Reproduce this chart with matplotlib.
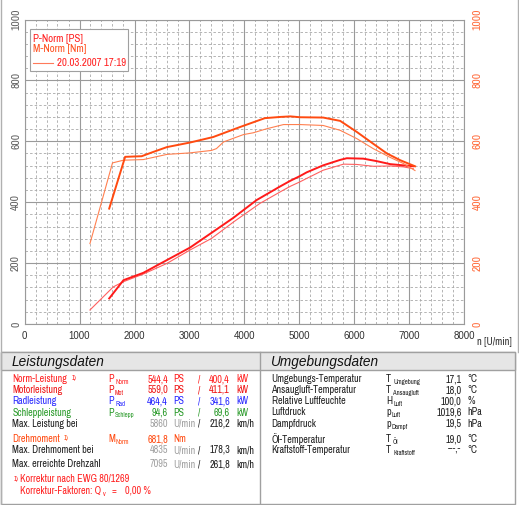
import matplotlib
matplotlib.use('Agg')
import matplotlib.pyplot as plt
from matplotlib import font_manager
from matplotlib.ticker import MultipleLocator

plt.rcParams['font.family'] = ['Liberation Sans', 'DejaVu Sans']

# narrow face for the tables, first one that is installed
names = {f.name for f in font_manager.fontManager.ttflist}
TFONT = ['Liberation Sans', 'DejaVu Sans']
FS, SUB, YFS = 6.2, 4.2, 7
for cand in ['Liberation Sans Narrow', 'Arial Narrow', 'Archivo Narrow',
             'PT Sans Narrow', 'Roboto Condensed', 'Open Sans Condensed']:
    if cand in names:
        TFONT = [cand, 'DejaVu Sans']
        FS, SUB, YFS = 7.3, 4.8, 8.3
        break

# --- curve data ---
rpm_m_thick = [1540, 1830, 2130, 2340, 2590, 3010, 3430, 3920, 4370, 4650, 4835,
               5010, 5430, 5740, 6040, 6340, 6590, 6830, 7100]
m_thick = [379, 549, 551, 565, 581, 596, 614, 647, 676, 680, 681.8,
           679, 678, 667, 631, 592, 560, 538, 518]

rpm_m_thin = [1190, 1600, 1800, 2160, 2590, 3010, 3400, 3490, 3620, 3980, 4160,
              4400, 4710, 5010, 5430, 5740, 6040, 6340, 6650, 6890, 7100]
m_thin = [264, 529, 538, 540, 557, 562, 570, 576, 598, 622, 628,
          641, 655, 655, 652, 636, 609, 576, 547, 527, 504]

rpm_p_thick = [1540, 1800, 2160, 2590, 3010, 3430, 3800, 4220, 4650, 4830, 5010,
               5130, 5430, 5740, 5860, 6160, 6400, 6650, 6890, 7070]
p_thick = [84, 144, 168, 210, 251, 303, 349, 407, 452, 470, 486,
           498, 521, 539, 544.4, 543, 535, 525, 521, 518]

rpm_p_thin = [1190, 1615, 1800, 2160, 2590, 3010, 3400, 3800, 4280, 4650, 4830,
              5010, 5130, 5430, 5800, 6040, 6340, 6650, 6890, 7070]
p_thin = [46, 122, 139, 164, 199, 243, 281, 335, 396, 434, 452,
          467, 478, 505, 525, 524, 518, 519, 516, 510]

x_ticks = [0, 1000, 2000, 3000, 4000, 5000, 6000, 7000, 8000]
y_ticks = [0, 200, 400, 600, 800, 1000]

legend_date = '20.03.2007 17:19'

# --- table data ---
leist_labels = ['Norm-Leistung', 'Motorleistung', 'Radleistung', 'Schleppleistung']
leist_sym = ['Norm', 'Mot', 'Rad', 'Schlepp']
leist_ps = ['544,4', '559,0', '464,4', '94,6']
leist_kw = ['400,4', '411,1', '341,6', '69,6']
leist_colors = ['#ff2020', '#ee1515', '#2a2aff', '#2a9a2a']

umg_labels = ['Umgebungs-Temperatur', 'Ansaugluft-Temperatur', 'Relative Luftfeuchte',
              'Luftdruck', 'Dampfdruck', 'Öl-Temperatur', 'Kraftstoff-Temperatur']
umg_sym = ['T', 'T', 'H', 'p', 'p', 'T', 'T']
umg_sub = ['Umgebung', 'Ansaugluft', 'Luft', 'Luft', 'Dampf', 'Öl', 'Kraftstoff']
umg_vals = ['17,1', '18,0', '100,0', '1019,6', '19,5', '19,0', '---,-']
umg_units = ['°C', '°C', '%', 'hPa', 'hPa', '°C', '°C']

W, H = 519, 505
fig = plt.figure(figsize=(W / 100, H / 100), dpi=100)


def px_box(x0, y0, x1, y1):
    return [x0 / W, 1 - y1 / H, (x1 - x0) / W, (y1 - y0) / H]


# === chart ===
ax = fig.add_axes(px_box(24.5, 19.5, 464.5, 324))
ax.set_xlim(0, 8000)
ax.set_ylim(0, 1000)
ax.xaxis.set_major_locator(MultipleLocator(1000))
ax.xaxis.set_minor_locator(MultipleLocator(200))
ax.yaxis.set_major_locator(MultipleLocator(200))
ax.yaxis.set_minor_locator(MultipleLocator(40))
ax.grid(which='major', color='#9a9a9a', linewidth=0.8)
ax.grid(which='minor', color='#a8a8a8', linewidth=0.6, linestyle=(0, (3, 2.5)))
ax.set_axisbelow(True)
for s in ax.spines.values():
    s.set_color('#9a9a9a')
    s.set_linewidth(0.8)
ax.tick_params(which='both', length=0)
ax.set_xticks(x_ticks)
ax.set_xticklabels([str(v) for v in x_ticks], fontsize=7, color='#303030')
ax.set_yticks(y_ticks)
ax.set_yticklabels([str(v) for v in y_ticks], fontsize=YFS, color='#606060',
                   rotation=90, va='center', family=TFONT)
ax.tick_params(axis='x', pad=5)
ax.tick_params(axis='y', pad=2.5)

ax.plot(rpm_p_thin, p_thin, color='#ff6060', linewidth=0.8)
ax.plot(rpm_p_thick, p_thick, color='#ff1a1a', linewidth=1.4)

ax2 = ax.twinx()
ax2.set_ylim(0, 1000)
ax2.set_yticks(y_ticks)
ax2.set_yticklabels([str(v) for v in y_ticks], fontsize=YFS, color='#ff6a3a',
                    rotation=90, va='center', family=TFONT)
ax2.tick_params(length=0, pad=6)
for s in ax2.spines.values():
    s.set_visible(False)
ax2.plot(rpm_m_thin, m_thin, color='#ff8050', linewidth=0.8)
ax2.plot(rpm_m_thick, m_thick, color='#ff4a10', linewidth=1.4)

# === overlay in pixel coordinates ===
ov = fig.add_axes([0, 0, 1, 1], zorder=5)
ov.set_xlim(0, W)
ov.set_ylim(H, 0)
ov.axis('off')
ov.patch.set_alpha(0)


def t(x, y, s, size=None, **kw):
    kw.setdefault('va', 'center')
    kw.setdefault('family', TFONT)
    return ov.text(x, y, s, fontsize=size or FS, **kw)


t(477, 342, 'n [U/min]', size=FS + 0.3, color='#303030')

# legend box
ov.add_patch(plt.Rectangle((30, 29), 98, 42, facecolor='white', edgecolor='#a0a0a0',
                           linewidth=0.8))
t(33, 39, 'P-Norm [PS]', size=FS + 0.5, color='#ff2020')
t(33, 49.5, 'M-Norm [Nm]', size=FS + 0.5, color='#ff5020')
ov.plot([33, 53], [62.5, 62.5], color='#ff7a5a', linewidth=0.8)
t(57, 63, legend_date, size=FS + 0.5, color='#ff2020')

# frame lines
ov.plot([1, 1], [0, H], color='#b0b0b0', linewidth=1)
ov.plot([518, 518], [0, 352], color='#b0b0b0', linewidth=1)

# bottom panels
ov.add_patch(plt.Rectangle((1, 352), 514, 151.5, facecolor='white', edgecolor='#a0a0a0',
                           linewidth=1))
ov.add_patch(plt.Rectangle((1, 352), 514, 18, facecolor='#e6e6e6', edgecolor='#a0a0a0',
                           linewidth=1))
ov.plot([260, 260], [352, 503.5], color='#a0a0a0', linewidth=1)
ov.text(12, 362, 'Leistungsdaten', fontsize=9.8, style='italic', color='#111111',
        va='center')
ov.text(271, 362, 'Umgebungsdaten', fontsize=9.8, style='italic', color='#111111',
        va='center')


def sym(x, y, main, sub, color, sub_dx=7):
    t(x, y, main, color=color)
    t(x + sub_dx, y + 3, sub, size=SUB, color=color)


rows_l = [379.3, 390, 401.5, 412.5]
for i, lab in enumerate(leist_labels):
    c = leist_colors[i]
    y = rows_l[i]
    t(12.5, y, lab, color=c)
    sym(108, y, 'P', leist_sym[i], c)
    t(168, y, leist_ps[i], color=c, ha='right')
    t(173, y, 'PS', color=c)
    t(199, y, '/', color=c, ha='center')
    t(230, y, leist_kw[i], color=c, ha='right')
    t(236, y, 'kW', color=c)
t(72, 378, '1)', size=SUB, color='#ff2020')


def speed_row(y, label, rpm, kmh):
    t(12.5, y, label, color='#202020')
    t(168, y, rpm, color='#a0a0a0', ha='right')
    t(173, y, 'U/min', color='#a0a0a0')
    t(199, y, '/', color='#202020', ha='center')
    t(230, y, kmh, color='#202020', ha='right')
    t(236, y, 'km/h', color='#202020')


speed_row(423.7, 'Max. Leistung bei', '5860', '216,2')
dm_c = '#ff4a10'
t(12.5, 439, 'Drehmoment', color=dm_c)
t(64, 438, '1)', size=SUB, color=dm_c)
sym(108, 439, 'M', 'Norm', dm_c, sub_dx=8)
t(168, 439, '681,8', color=dm_c, ha='right')
t(173, 439, 'Nm', color=dm_c)
speed_row(450, 'Max. Drehmoment bei', '4835', '178,3')
speed_row(464.3, 'Max. erreichte Drehzahl', '7095', '261,8')

kc = '#ff2020'
t(13.5, 478.5, '1)', size=SUB, color=kc)
t(20, 479, 'Korrektur nach EWG 80/1269', color=kc)
t(20, 490.7, 'Korrektur-Faktoren: Q', color=kc)
t(102.5, 493.5, 'v', size=SUB, color=kc)
t(112, 490.7, '=', color=kc)
t(125, 490.7, '0,00 %', color=kc)

rows_r = [379.3, 390.3, 401.3, 412.3, 423.7, 439, 450]
for i, lab in enumerate(umg_labels):
    y = rows_r[i]
    t(271.5, y, lab, color='#202020')
    sym(386, y, umg_sym[i], umg_sub[i], '#202020', sub_dx=7 if umg_sym[i] != 'p' else 6)
    t(461.5, y, umg_vals[i], color='#202020', ha='right')
    t(467, y, umg_units[i], color='#202020')

fig.savefig('out.png', dpi=100)
